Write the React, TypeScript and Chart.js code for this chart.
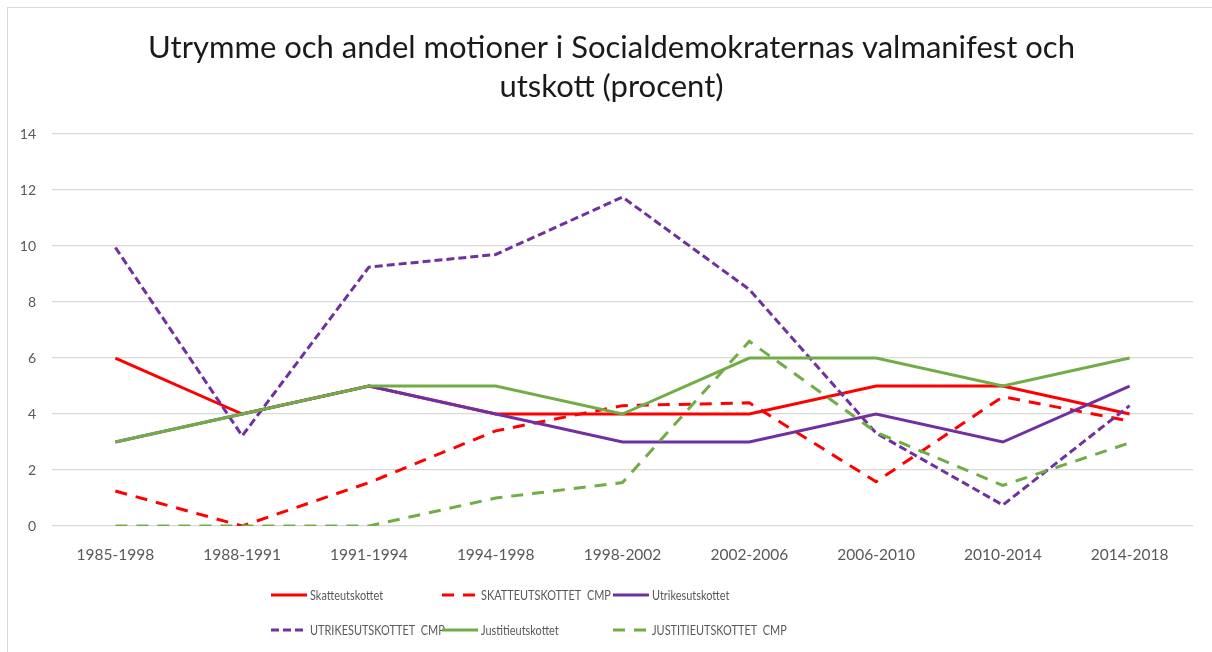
import React, { useEffect, useRef } from "react";
import { Chart, registerables } from "chart.js";

Chart.register(...registerables);

const categories = [
  "1985-1998", "1988-1991", "1991-1994", "1994-1998", "1998-2002",
  "2002-2006", "2006-2010", "2010-2014", "2014-2018",
];
const seriesLabels = [
  "Skatteutskottet",
  "SKATTEUTSKOTTET  CMP",
  "Utrikesutskottet",
  "UTRIKESUTSKOTTET  CMP",
  "Justitieutskottet",
  "JUSTITIEUTSKOTTET  CMP",
];
const skatteutskottet = [6, 4, 5, 4, 4, 4, 5, 5, 4];
const skatteutskottetCmp = [1.25, 0, 1.55, 3.4, 4.3, 4.4, 1.58, 4.62, 3.75];
const utrikesutskottet = [3, 4, 5, 4, 3, 3, 4, 3, 5];
const utrikesutskottetCmp = [9.95, 3.22, 9.25, 9.7, 11.75, 8.45, 3.32, 0.75, 4.3];
const justitieutskottet = [3, 4, 5, 5, 4, 6, 6, 5, 6];
const justitieutskottetCmp = [0, 0, 0, 1.0, 1.55, 6.6, 3.35, 1.45, 2.97];
const yMin = 0;
const yMax = 14;
const yStep = 2;

const titleLines = [
  "Utrymme och andel motioner i Socialdemokraternas valmanifest och",
  "utskott (procent)",
];

const RED = "#FF0000";
const PURPLE = "#7030A0";
const GREEN = "#70AD47";
const LONG_DASH = [12, 9];
const SHORT_DASH = [8, 4];

// Shift the title block so it is centred like the original (over the whole frame)
const titleShift = {
  id: "titleShift",
  afterLayout(chart: any) {
    const t = chart.titleBlock;
    if (t) {
      t.left = 30;
    }
  },
};

// Legend in a 3-column grid, text drawn slightly condensed (like Calibri)
const gridLegend = {
  id: "gridLegend",
  afterDraw(chart: any) {
    const ctx = chart.ctx as CanvasRenderingContext2D;
    const left = chart.chartArea.left + 219;
    const colW = 171;
    const rowTop = chart.chartArea.bottom + 69;
    const rowH = 35;
    chart.data.datasets.forEach((ds: any, i: number) => {
      const x = left + (i % 3) * colW;
      const y = rowTop + Math.floor(i / 3) * rowH;
      ctx.save();
      ctx.strokeStyle = ds.borderColor;
      ctx.lineWidth = 3;
      ctx.lineCap = "butt";
      ctx.setLineDash(ds.borderDash || []);
      ctx.beginPath();
      ctx.moveTo(x, y);
      ctx.lineTo(x + 36, y);
      ctx.stroke();
      ctx.setLineDash([]);
      ctx.fillStyle = "#595959";
      ctx.font = "13.5px Lato";
      ctx.textBaseline = "middle";
      ctx.textAlign = "left";
      const w = ctx.measureText(ds.label).width;
      ctx.fillText(ds.label, x + 39, y + 1, w * 0.81);
      ctx.restore();
    });
  },
};

export default function App() {
  const canvasRef = useRef<HTMLCanvasElement | null>(null);

  useEffect(() => {
    if (!canvasRef.current) return;
    const values = [
      skatteutskottet,
      skatteutskottetCmp,
      utrikesutskottet,
      utrikesutskottetCmp,
      justitieutskottet,
      justitieutskottetCmp,
    ];
    const colors = [RED, RED, PURPLE, PURPLE, GREEN, GREEN];
    const dashes = [[], LONG_DASH, [], SHORT_DASH, [], LONG_DASH];
    const chart = new Chart(canvasRef.current, {
      type: "line",
      data: {
        labels: categories,
        datasets: values.map((v, i) => ({
          label: seriesLabels[i],
          data: v,
          borderColor: colors[i],
          backgroundColor: colors[i],
          borderWidth: 3,
          borderDash: dashes[i],
          pointRadius: 0,
          pointHoverRadius: 0,
          tension: 0,
          fill: false,
          order: values.length - i,
        })),
      },
      options: {
        animation: false,
        responsive: false,
        maintainAspectRatio: false,
        layout: { padding: { left: 0, right: 19, top: 8, bottom: 86 } },
        plugins: {
          legend: { display: false },
          tooltip: { enabled: false },
          title: {
            display: true,
            text: titleLines,
            color: "#1a1a1a",
            font: { family: "Lato", size: 31, weight: "normal", lineHeight: 1.26 },
            padding: { top: 20, bottom: 28 },
          },
        },
        scales: {
          x: {
            offset: true,
            grid: { display: false },
            border: { display: false },
            ticks: {
              color: "#595959",
              font: { family: "Lato", size: 15.5 },
              padding: 12,
              maxRotation: 0,
              autoSkip: false,
            },
            afterFit: (s: any) => {
              s.height = 40;
            },
          },
          y: {
            min: yMin,
            max: yMax,
            grid: { color: "#d9d9d9", lineWidth: 1.3, drawTicks: false },
            border: { display: false },
            ticks: {
              stepSize: yStep,
              color: "#595959",
              font: { family: "Lato", size: 14 },
              padding: 16,
            },
            afterFit: (s: any) => {
              s.width = 52;
            },
          },
        },
      },
      plugins: [titleShift, gridLegend],
    });
    return () => chart.destroy();
  }, []);

  return (
    <div style={{ position: "fixed", left: 0, top: 0, width: 1212, height: 652, background: "#fff" }}>
      <canvas ref={canvasRef} width={1212} height={652} style={{ display: "block", width: 1212, height: 652 }} />
      <div
        style={{
          position: "absolute",
          left: 7,
          top: 7,
          right: 0,
          bottom: 0,
          borderLeft: "1px solid #d9d9d9",
          borderTop: "1px solid #d9d9d9",
          pointerEvents: "none",
        }}
      />
    </div>
  );
}
